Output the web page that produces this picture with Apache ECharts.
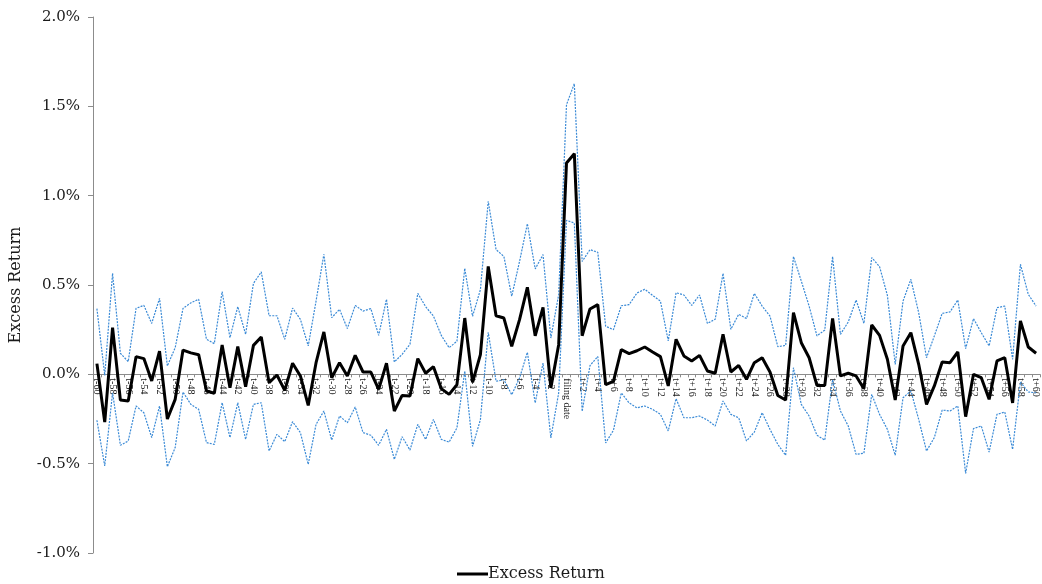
<!DOCTYPE html>
<html>
<head>
<meta charset="utf-8">
<script src="https://cdn.jsdelivr.net/npm/echarts@6/dist/echarts.min.js"></script>
<style>html,body{margin:0;padding:0;background:#fff}#c{width:1042px;height:584px}</style>
</head>
<body>
<div id="c"></div>
<script>
// categories: t-60 ... t-1, filing date, t+1 ... t+60
const categories = [];
for (let k = -60; k <= 60; k++) categories.push(k === 0 ? 'filing date' : (k < 0 ? 't' + k : 't+' + k));

// Excess return (%)
const excessReturn = [
  0.06, -0.267, 0.261, -0.144, -0.149, 0.099, 0.088, -0.037, 0.13, -0.25,
  -0.14, 0.136, 0.12, 0.11, -0.093, -0.106, 0.164, -0.075, 0.155, -0.069,
  0.162, 0.209, -0.047, -0.004, -0.09, 0.062, -0.009, -0.174, 0.065, 0.237,
  -0.019, 0.065, -0.009, 0.106, 0.013, 0.013, -0.084, 0.062, -0.205, -0.118,
  -0.121, 0.088, 0.006, 0.043, -0.08, -0.112, -0.058, 0.315, -0.045, 0.11,
  0.604, 0.328, 0.315, 0.157, 0.306, 0.487, 0.216, 0.375, -0.076, 0.166,
  1.183, 1.235, 0.216, 0.366, 0.39, -0.058, -0.039, 0.138, 0.116, 0.132,
  0.153, 0.125, 0.099, -0.065, 0.196, 0.103, 0.075, 0.106, 0.019, 0.006,
  0.224, 0.013, 0.05, -0.028, 0.065, 0.093, 0.013, -0.118, -0.144, 0.345,
  0.177, 0.093, -0.062, -0.062, 0.313, -0.009, 0.006, -0.009, -0.08, 0.276,
  0.218, 0.084, -0.144, 0.159, 0.233, 0.056, -0.168, -0.065, 0.069, 0.065,
  0.125, -0.237, 0.0, -0.019, -0.14, 0.075, 0.093, -0.16, 0.299, 0.153,
  0.118
];

// Upper confidence band (%)
const upperBand = [
  0.368, -0.006, 0.565, 0.118, 0.071, 0.369, 0.386, 0.285, 0.425, 0.047,
  0.149, 0.369, 0.40, 0.42, 0.196, 0.172, 0.463, 0.205, 0.379, 0.224,
  0.509, 0.573, 0.328, 0.328, 0.196, 0.371, 0.308, 0.159, 0.41, 0.672,
  0.317, 0.364, 0.256, 0.386, 0.354, 0.368, 0.218, 0.42, 0.069, 0.112,
  0.168, 0.453, 0.379, 0.326, 0.218, 0.149, 0.185, 0.593, 0.325, 0.474,
  0.968, 0.698, 0.66, 0.437, 0.632, 0.843, 0.59, 0.67, 0.203, 0.446,
  1.509, 1.627, 0.632, 0.698, 0.683, 0.269, 0.25, 0.384, 0.39, 0.455,
  0.476, 0.442, 0.41, 0.187, 0.457, 0.444, 0.386, 0.444, 0.285, 0.308,
  0.565, 0.252, 0.336, 0.312, 0.453, 0.382, 0.326, 0.155, 0.162, 0.659,
  0.522, 0.382, 0.215, 0.248, 0.659, 0.224, 0.293, 0.416, 0.285, 0.653,
  0.603, 0.442, 0.056, 0.41, 0.532, 0.345, 0.093, 0.215, 0.341, 0.349,
  0.416, 0.144, 0.312, 0.233, 0.159, 0.373, 0.382, 0.084, 0.616, 0.448,
  0.382
];

// Lower confidence band (%)
const lowerBand = [
  -0.257, -0.513, -0.103, -0.397, -0.373, -0.177, -0.215, -0.354, -0.177, -0.517,
  -0.41, -0.099, -0.168, -0.196, -0.382, -0.392, -0.159, -0.354, -0.159, -0.364,
  -0.168, -0.159, -0.429, -0.336, -0.377, -0.265, -0.326, -0.504, -0.28, -0.205,
  -0.368, -0.233, -0.271, -0.183, -0.326, -0.341, -0.397, -0.308, -0.476, -0.349,
  -0.424, -0.28, -0.364, -0.252, -0.364, -0.379, -0.3, 0.018, -0.403, -0.254,
  0.235, -0.039, -0.03, -0.114, -0.021, 0.123, -0.16, 0.063, -0.356, -0.104,
  0.862, 0.847, -0.207, 0.049, 0.1, -0.384, -0.313, -0.104, -0.16, -0.188,
  -0.177, -0.196, -0.224, -0.317, -0.136, -0.243, -0.243, -0.233, -0.256, -0.289,
  -0.149, -0.224, -0.243, -0.373, -0.323, -0.215, -0.308, -0.392, -0.453, 0.037,
  -0.168, -0.233, -0.341, -0.368, -0.03, -0.205, -0.289, -0.448, -0.442, -0.112,
  -0.224, -0.308, -0.453, -0.131, -0.093, -0.252, -0.429, -0.354, -0.2, -0.205,
  -0.177, -0.554, -0.304, -0.289, -0.435, -0.224, -0.211, -0.42, -0.043, -0.099,
  -0.103
];

const yTicks = { min: -1, max: 2, step: 0.5 };
const serifA = '"Liberation Serif", serif';
const serifB = '"DejaVu Serif", serif';
const bandColor = '#3a8ad6';

const gridTop = 17, gridBottom = 31, height = 584;
const plotH = height - gridTop - gridBottom;
const zeroOffset = -plotH * (0 - yTicks.min) / (yTicks.max - yTicks.min);

const chart = echarts.init(document.getElementById('c'), null, { renderer: 'canvas' });
chart.setOption({
  animation: false,
  backgroundColor: '#ffffff',
  grid: { left: 93, right: 2, top: gridTop, bottom: gridBottom, containLabel: false },
  legend: {
    data: [{ name: 'Excess Return', icon: 'rect' }],
    top: 566,
    left: 457,
    padding: 0,
    itemWidth: 31,
    itemHeight: 3,
    textStyle: { fontFamily: serifB, fontSize: 16, color: '#1a1a1a', padding: [0, 0, 0, -5] }
  },
  xAxis: {
    type: 'category',
    data: categories,
    boundaryGap: true,
    offset: zeroOffset,
    axisLine: { onZero: false, lineStyle: { color: '#8c8c8c', width: 1 } },
    axisTick: { show: true, interval: 0, length: 3, lineStyle: { color: '#8c8c8c' } },
    axisLabel: {
      interval: 1,
      rotate: -90,
      margin: 4,
      fontFamily: serifA,
      fontSize: 10,
      color: '#1a1a1a'
    },
    splitLine: { show: false }
  },
  yAxis: {
    type: 'value',
    min: yTicks.min,
    max: yTicks.max,
    interval: yTicks.step,
    name: 'Excess Return',
    nameLocation: 'middle',
    nameGap: 69,
    nameRotate: 90,
    nameTextStyle: { fontFamily: serifB, fontSize: 16, color: '#1a1a1a' },
    axisLine: { show: true, lineStyle: { color: '#8c8c8c', width: 1 } },
    axisTick: { show: true, length: 5, lineStyle: { color: '#8c8c8c' } },
    axisLabel: {
      formatter: v => v.toFixed(1) + '%',
      fontFamily: serifB,
      fontSize: 15,
      color: '#1a1a1a',
      margin: 13
    },
    splitLine: { show: false }
  },
  series: [
    {
      name: 'Upper',
      type: 'line',
      data: upperBand,
      symbol: 'none',
      lineStyle: { color: bandColor, width: 1.2, type: [2, 1.2] },
      z: 1
    },
    {
      name: 'Lower',
      type: 'line',
      data: lowerBand,
      symbol: 'none',
      lineStyle: { color: bandColor, width: 1.2, type: [2, 1.2] },
      z: 1
    },
    {
      name: 'Excess Return',
      type: 'line',
      data: excessReturn,
      symbol: 'none',
      itemStyle: { color: '#000' },
      lineStyle: { color: '#000', width: 3 },
      z: 3
    }
  ]
});
</script>
</body>
</html>
